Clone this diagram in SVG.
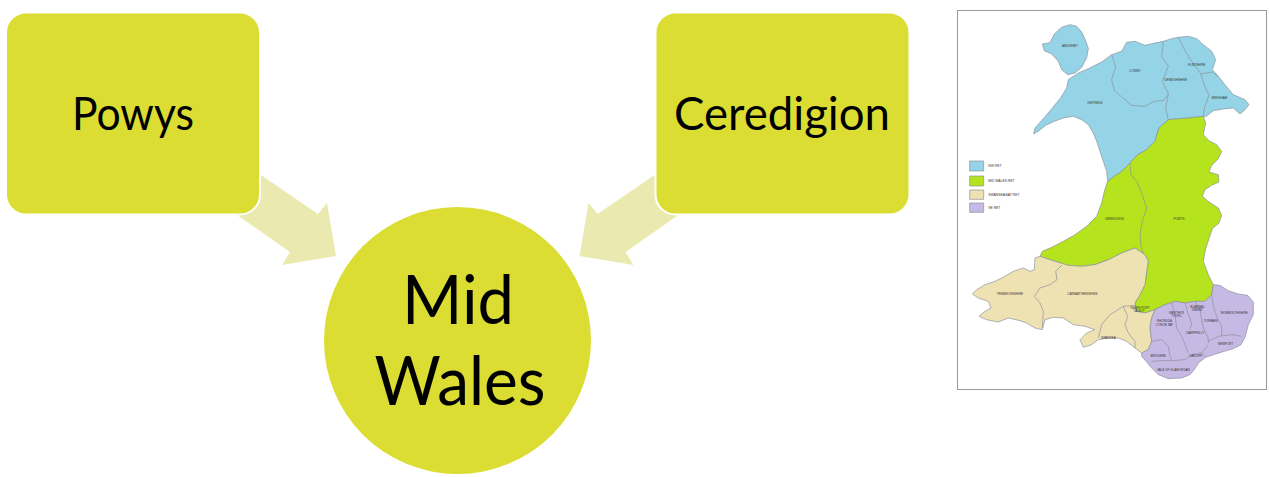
<svg xmlns="http://www.w3.org/2000/svg" width="1269" height="477" viewBox="0 0 1269 477">
<style>
.box{fill:#DBDD32;stroke:#ffffff;stroke-width:2}
.arrow{fill:#EAEAB0}
.lbl{font-family:Lato,"Open Sans","Noto Sans",sans-serif;fill:#000;text-anchor:middle}
.rg{stroke:#8a8f9a;stroke-width:2;stroke-linejoin:round}
.ln{fill:none;stroke:#8a8f9a;stroke-width:2;stroke-linejoin:round}
.nw{fill:#95D3E6}.mid{fill:#B5E31E}.sb{fill:#EEE1B2}.se{fill:#C6B9E4}
.ml{font-family:"Liberation Sans",Arial,sans-serif;font-size:9px;fill:#333;text-anchor:middle}
.lg{font-family:"Liberation Sans",Arial,sans-serif;font-size:10px;fill:#333}
</style>
<rect width="1269" height="477" fill="#ffffff"/>
<g id="connectors">
<polygon class="arrow" points="230,154 318,214 327,203 336,256 282,265 290,252 210,196"/>
<polygon class="arrow" points="685.5,154 597.5,214 588.5,203 579.5,256 633.5,265 625.5,252 705.5,196"/>
</g>
<g id="powys">
<rect class="box" x="6" y="12.5" width="254" height="202" rx="20"/>
<text class="lbl" x="133" y="130" font-size="46" textLength="122" lengthAdjust="spacingAndGlyphs">Powys</text>
</g>
<g id="ceredigion">
<rect class="box" x="655.5" y="12.5" width="254" height="202" rx="20"/>
<text class="lbl" x="782" y="130" font-size="46" textLength="216" lengthAdjust="spacingAndGlyphs">Ceredigion</text>
</g>
<g id="midwales">
<circle cx="457.5" cy="340.5" r="133.5" fill="#DBDD32"/>
<text class="lbl" x="458" y="324" font-size="67" textLength="112" lengthAdjust="spacingAndGlyphs">Mid</text>
<text class="lbl" x="460" y="405" font-size="67" textLength="171" lengthAdjust="spacingAndGlyphs">Wales</text>
</g>
<g id="map">
<rect x="957.5" y="10.5" width="309" height="379" fill="#ffffff" stroke="#9a9a9a" stroke-width="1"/>
<g transform="translate(955,8) scale(0.33333)">
<path class="rg nw" d="M262,108 L285,104 L298,78 L320,58 L345,50 L365,55 L380,72 L392,98 L400,122 L395,150 L380,178 L360,195 L338,200 L320,185 L310,160 L290,138 L268,128 Z"/>
<path class="rg nw" d="M340,215 L370,195 L400,182 L440,162 L470,140 L500,130 L515,103 L540,100 L570,112 L600,105 L625,100 L650,92 L670,88 L700,85 L725,92 L745,110 L770,130 L782,155 L772,185 L790,205 L810,230 L835,260 L870,275 L882,290 L870,305 L855,318 L835,300 L805,303 L775,308 L752,326 L745,325 L700,330 L640,335 L612,360 L600,400 L575,425 L548,440 L525,465 L500,490 L478,505 L458,520 L455,490 L445,460 L435,430 L425,400 L415,375 L400,350 L380,335 L355,325 L325,330 L298,340 L272,352 L252,368 L236,378 L240,360 L265,332 L292,300 L318,268 L335,240 Z"/>
<path class="ln" d="M470,140 L482,178 L470,215 L478,248 L502,268 L530,292 L568,295 L598,280 L625,278 L640,260"/>
<path class="ln" d="M625,100 L620,145 L640,175 L622,220 L640,258 L632,300 L640,335"/>
<path class="ln" d="M670,88 L690,128 L710,160 L738,198 L748,232 L762,262 L748,300 L745,325"/>
<path class="ln" d="M738,198 L772,192 L790,205"/>
<path class="rg mid" d="M458,520 L478,505 L500,490 L525,465 L548,440 L575,425 L600,400 L612,360 L640,335 L700,330 L745,325 L752,345 L745,380 L762,398 L785,410 L800,430 L790,452 L770,472 L762,492 L790,500 L792,522 L770,532 L750,545 L742,565 L762,582 L790,600 L800,622 L792,645 L772,662 L762,692 L752,722 L745,760 L760,800 L775,830 L770,860 L750,880 L720,880 L690,885 L660,880 L630,890 L600,905 L570,915 L545,910 L540,885 L555,860 L570,830 L575,790 L580,760 L570,740 L540,720 L500,735 L460,755 L420,770 L380,775 L340,772 L300,760 L255,745 L262,730 L290,718 L325,700 L360,680 L395,655 L425,625 L440,585 L448,550 Z"/>
<path class="ln" d="M525,465 L528,500 L545,520 L560,555 L575,600 L562,640 L555,680 L558,715 L565,738"/>
<path class="rg sb" d="M255,745 L300,760 L340,772 L380,775 L420,770 L460,755 L500,735 L540,720 L570,740 L580,760 L575,790 L570,830 L555,860 L540,885 L545,910 L570,915 L600,905 L590,930 L585,960 L590,1000 L580,1025 L560,1035 L540,1020 L515,1000 L490,990 L460,990 L430,995 L410,1010 L385,1018 L375,995 L395,975 L420,965 L390,955 L355,950 L325,930 L295,928 L270,935 L262,965 L240,960 L215,945 L195,938 L160,930 L130,942 L95,935 L72,925 L90,910 L108,900 L100,880 L70,870 L52,858 L65,845 L90,830 L120,820 L150,805 L175,790 L205,780 L225,790 L238,785 L240,750 Z"/>
<path class="ln" d="M320,772 L302,790 L306,815 L285,830 L255,840 L238,865 L255,885 L265,910 L262,960"/>
<path class="ln" d="M430,990 L440,950 L465,920 L505,895 L540,892"/>
<path class="ln" d="M505,895 L518,925 L510,950 L520,975 L540,1000 L540,1020"/>
<path class="rg se" d="M600,905 L630,890 L660,880 L690,885 L720,880 L750,880 L770,860 L775,830 L795,832 L820,848 L850,858 L878,862 L895,882 L895,920 L880,950 L870,988 L858,1010 L835,1022 L808,1030 L782,1038 L752,1048 L730,1065 L718,1085 L705,1100 L680,1110 L640,1112 L610,1100 L590,1080 L575,1062 L560,1045 L560,1035 L580,1025 L590,1000 L585,960 L590,930 Z"/>
<path class="ln" d="M590,1000 L620,995 L640,1015 L645,1045 L650,1058"/>
<path class="ln" d="M590,1060 L620,1058 L650,1058 L690,1055 L710,1040 L740,1035 L752,1048"/>
<path class="ln" d="M650,885 L660,920 L665,960 L680,985 L690,1010 L700,1035"/>
<path class="ln" d="M690,885 L700,920 L710,945 L705,965"/>
<path class="ln" d="M720,880 L735,905 L740,935 L745,960 L760,990 L760,1005"/>
<path class="ln" d="M770,860 L775,895 L785,925 L800,955 L800,985"/>
<path class="ln" d="M760,1000 L790,985 L830,980 L860,985"/>
<path class="ln" d="M740,1035 L760,1010"/>
<text class="ml" x="345" y="118">ANGLESEY</text>
<text class="ml" x="540" y="192">CONWY</text>
<text class="ml" x="662" y="218">DENBIGHSHIRE</text>
<text class="ml" x="725" y="173">FLINTSHIRE</text>
<text class="ml" x="793" y="272">WREXHAM</text>
<text class="ml" x="420" y="288">GWYNEDD</text>
<text class="ml" x="478" y="635">CEREDIGION</text>
<text class="ml" x="672" y="635">POWYS</text>
<text class="ml" x="165" y="861">PEMBROKESHIRE</text>
<text class="ml" x="382" y="861">CARMARTHENSHIRE</text>
<text class="ml" x="460" y="993">SWANSEA</text>
<text class="ml" x="555" y="902">NEATH PORT</text>
<text class="ml" x="552" y="913">TALBOT</text>
<text class="ml" x="665" y="918">MERTHYR</text>
<text class="ml" x="665" y="928">TYDFIL</text>
<text class="ml" x="628" y="943">RHONDDA</text>
<text class="ml" x="628" y="953">CYNON TAF</text>
<text class="ml" x="727" y="900">BLAENAU</text>
<text class="ml" x="727" y="910">GWENT</text>
<text class="ml" x="767" y="942">TORFAEN</text>
<text class="ml" x="838" y="918">MONMOUTHSHIRE</text>
<text class="ml" x="720" y="977">CAERPHILLY</text>
<text class="ml" x="812" y="1012">NEWPORT</text>
<text class="ml" x="610" y="1047">BRIDGEND</text>
<text class="ml" x="722" y="1048">CARDIFF</text>
<text class="ml" x="655" y="1088">VALE OF GLAMORGAN</text>
<rect class="rg nw" x="44" y="459" width="42" height="30"/>
<rect class="rg mid" x="44" y="504" width="42" height="30"/>
<rect class="rg sb" x="44" y="546" width="42" height="28"/>
<rect class="rg se" x="44" y="585" width="42" height="28"/>
<text class="lg" x="100" y="478">NW RET</text>
<text class="lg" x="100" y="523">MID WALES RET</text>
<text class="lg" x="100" y="564">SWANSEA BAY RET</text>
<text class="lg" x="100" y="603">SE RET</text>
</g>
</g>
</svg>
